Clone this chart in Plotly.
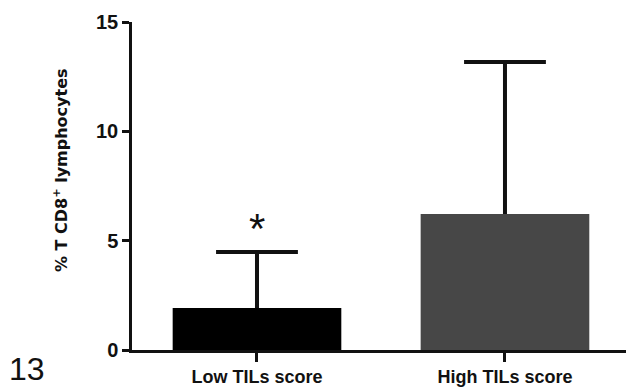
import plotly.graph_objects as go

categories = ["Low TILs score", "High TILs score"]
means = [1.92, 6.22]
sd_upper = [2.56, 6.95]
bar_colors = ["#000000", "#474747"]
y_ticks = [0, 5, 10, 15]
x_pos = [0, 1]
cap_half = 0.165

fig = go.Figure()
fig.add_trace(go.Bar(
    x=x_pos, y=means, width=0.68,
    marker=dict(color=bar_colors, line=dict(width=0)),
    hoverinfo="skip",
))

# upper-only error bars (no lower cap), built from the data arrays
ex, ey = [], []
for xp, m, s in zip(x_pos, means, sd_upper):
    top = m + s
    ex += [xp, xp, None, xp - cap_half, xp + cap_half, None]
    ey += [m, top, None, top, top, None]
fig.add_trace(go.Scatter(x=ex, y=ey, mode="lines",
                         line=dict(color="#111111", width=4),
                         hoverinfo="skip"))

fig.add_annotation(x=0, y=5.85, text="*", showarrow=False,
                   font=dict(family="Liberation Sans", size=42, color="#111"),
                   xref="x", yref="y", yanchor="middle", yshift=-6)
fig.add_annotation(x=(60 - 132) / 494, y=(350 - 170) / 328, xref="paper", yref="paper",
                   xanchor="center", yanchor="middle",
                   text="<b>% T CD8<sup>+</sup> lymphocytes</b>", textangle=-90,
                   showarrow=False,
                   font=dict(family="DejaVu Sans", size=16, color="#111"))
fig.add_annotation(x=(27 - 132) / 494, y=(350 - 369) / 328, xref="paper", yref="paper",
                   xanchor="center", yanchor="middle",
                   text="13", showarrow=False,
                   font=dict(family="Liberation Sans", size=32, color="#111"))

fig.update_layout(
    width=626, height=387,
    margin=dict(l=132, r=0, t=22, b=37),
    plot_bgcolor="white", paper_bgcolor="white",
    showlegend=False,
    xaxis=dict(range=[-0.504, 1.488], tickvals=x_pos,
               ticktext=["<b>" + c + "</b>" for c in categories],
               showline=True, linecolor="#111", linewidth=2.5,
               ticks="outside", ticklen=9, tickwidth=2.5, tickcolor="#111",
               showgrid=False, zeroline=False,
               tickfont=dict(family="Liberation Sans", size=18, color="#111")),
    yaxis=dict(range=[0, 15], tickvals=y_ticks,
               ticktext=["<b>%d</b>" % v for v in y_ticks],
               showline=True, linecolor="#111", linewidth=2.5,
               ticks="outside", ticklen=7, tickwidth=2.5, tickcolor="#111",
               showgrid=False, zeroline=False,
               tickfont=dict(family="Liberation Sans", size=20, color="#111")),
)

fig.write_html("out.html")
